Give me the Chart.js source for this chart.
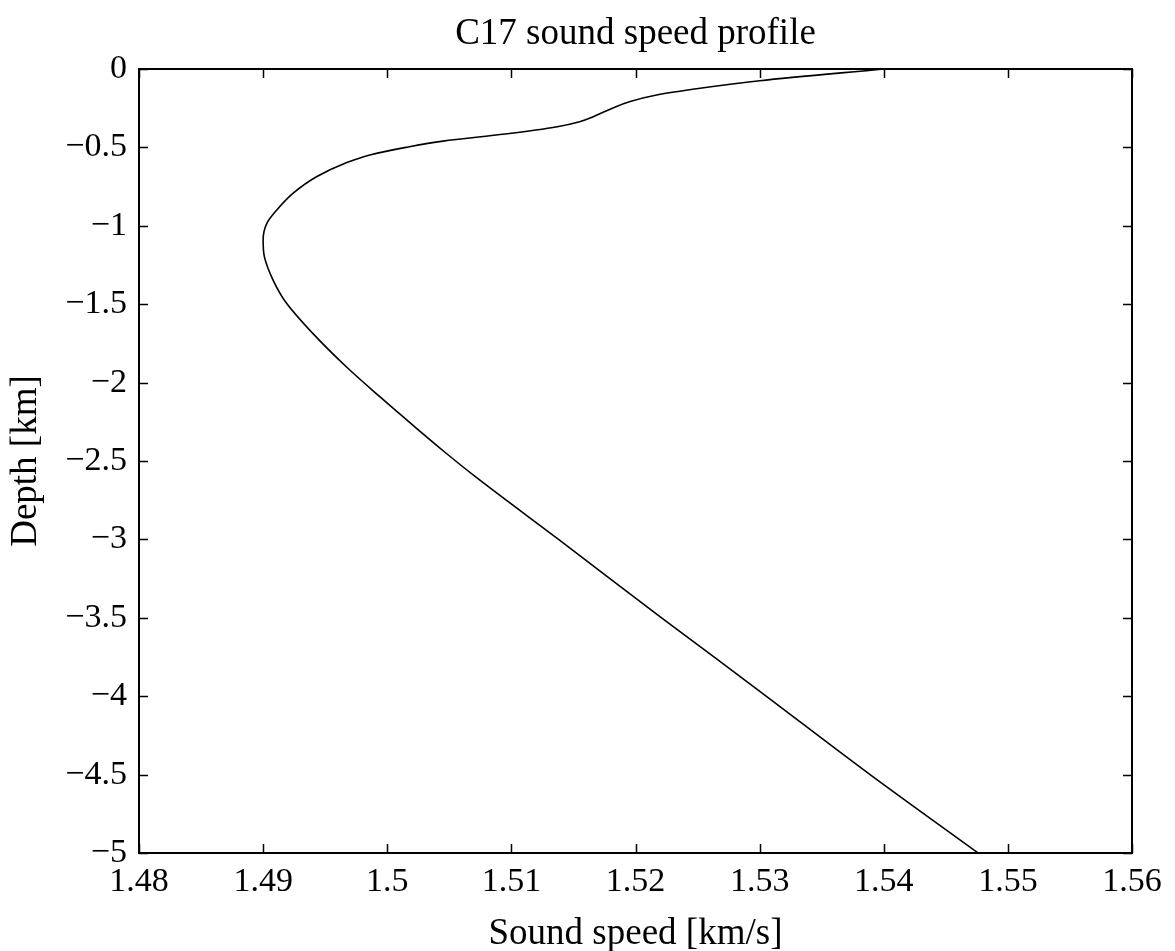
<!DOCTYPE html>
<html>
<head>
<meta charset="utf-8">
<script src="https://cdn.jsdelivr.net/npm/chart.js@4/dist/chart.umd.min.js"></script>
<style>
  html, body { margin: 0; padding: 0; background: #fff; }
  #wrap { width: 1175px; height: 951px; }
</style>
</head>
<body>
<div id="wrap"><canvas id="c" width="1175" height="951"></canvas></div>
<script>
// Depth [km] (negative downward) and sound speed [km/s]
const depths = [0, -0.075, -0.123, -0.166, -0.209, -0.255, -0.304, -0.336, -0.368, -0.415,
  -0.460, -0.500, -0.548, -0.601, -0.687, -0.793, -0.899, -0.984, -1.091, -1.197,
  -1.346, -1.484, -1.686, -1.899, -2.090, -2.281, -2.441, -2.600, -3.000, -3.500,
  -3.956, -4.500, -5.000];
const speeds = [1.5400, 1.5300, 1.5252, 1.5217, 1.5195, 1.5180, 1.5166, 1.5155, 1.5137, 1.5095,
  1.5045, 1.5015, 1.4986, 1.4966, 1.4943, 1.4924, 1.4911, 1.4903, 1.4900, 1.4901,
  1.4908, 1.4918, 1.4940, 1.4967, 1.4994, 1.5022, 1.5046, 1.5071, 1.5138, 1.5221,
  1.5298, 1.5389, 1.5476];
const xTickLabels = ['1.48', '1.49', '1.5', '1.51', '1.52', '1.53', '1.54', '1.55', '1.56'];
const yTickLabels = ['\u22125', '\u22124.5', '\u22124', '\u22123.5', '\u22123', '\u22122.5', '\u22122',
  '\u22121.5', '\u22121', '\u22120.5', '0'];
const titleText = 'C17 sound speed profile';
const xTitle = 'Sound speed [km/s]';
const yTitle = 'Depth [km]';

const FONT = '"Liberation Serif", "DejaVu Serif", serif';
const points = depths.map((d, i) => ({ x: speeds[i], y: d }));

// center the title over the plotting area
const titleOverPlot = {
  id: 'titleOverPlot',
  afterLayout(chart) {
    const t = chart.titleBlock, a = chart.chartArea;
    if (t) { t.left = a.left; t.right = a.right; t.width = a.right - a.left; }
  }
};

const frameTicks = {
  id: 'frameTicks',
  afterDatasetsDraw(chart) {
    const ctx = chart.ctx, a = chart.chartArea;
    const xs = chart.scales.x, ys = chart.scales.y;
    const L = 9;
    ctx.save();
    ctx.strokeStyle = '#000';
    ctx.lineWidth = 1.5;
    ctx.beginPath();
    xs.ticks.forEach(t => {
      const px = Math.round(xs.getPixelForValue(t.value)) + 0.5;
      ctx.moveTo(px, a.bottom); ctx.lineTo(px, a.bottom - L);
      ctx.moveTo(px, a.top); ctx.lineTo(px, a.top + L);
    });
    ys.ticks.forEach(t => {
      const py = Math.round(ys.getPixelForValue(t.value)) + 0.5;
      ctx.moveTo(a.left, py); ctx.lineTo(a.left + L, py);
      ctx.moveTo(a.right, py); ctx.lineTo(a.right - L, py);
    });
    ctx.stroke();
    ctx.lineWidth = 2;
    ctx.strokeRect(a.left, a.top, a.right - a.left, a.bottom - a.top);
    ctx.restore();
  }
};

new Chart(document.getElementById('c'), {
  type: 'scatter',
  data: {
    datasets: [{
      data: points,
      indexAxis: 'y',
      showLine: true,
      borderColor: '#000',
      borderWidth: 1.6,
      pointRadius: 0,
      cubicInterpolationMode: 'monotone',
      fill: false
    }]
  },
  options: {
    responsive: false,
    animation: false,
    devicePixelRatio: 1,
    layout: { padding: { left: 0, right: 43, top: 0, bottom: 0 } },
    plugins: {
      legend: { display: false },
      tooltip: { enabled: false },
      title: {
        display: true,
        text: titleText,
        color: '#000',
        font: { family: FONT, size: 37, weight: 'normal', lineHeight: 1 },
        padding: { top: 16, bottom: 16 }
      }
    },
    scales: {
      x: {
        type: 'linear',
        min: 1.48, max: 1.56,
        afterFit(s) { s.height = 98; },
        ticks: {
          stepSize: 0.01,
          color: '#000',
          padding: 9,
          maxRotation: 0,
          font: { family: FONT, size: 34 },
          callback: (v, i) => xTickLabels[i]
        },
        grid: { display: false, drawTicks: false },
        border: { display: false },
        title: {
          display: true, text: xTitle, color: '#000',
          font: { family: FONT, size: 37, lineHeight: 0.8 },
          padding: { top: 0, bottom: 2 }
        }
      },
      y: {
        type: 'linear',
        min: -5, max: 0,
        afterFit(s) { s.width = 139; },
        ticks: {
          stepSize: 0.5,
          color: '#000',
          padding: 12,
          font: { family: FONT, size: 34 },
          callback: (v, i) => yTickLabels[i]
        },
        grid: { display: false, drawTicks: false },
        border: { display: false },
        title: {
          display: true, text: yTitle, color: '#000',
          font: { family: FONT, size: 37, lineHeight: 1 },
          padding: { top: 8, bottom: 0 }
        }
      }
    }
  },
  plugins: [titleOverPlot, frameTicks]
});
</script>
</body>
</html>
